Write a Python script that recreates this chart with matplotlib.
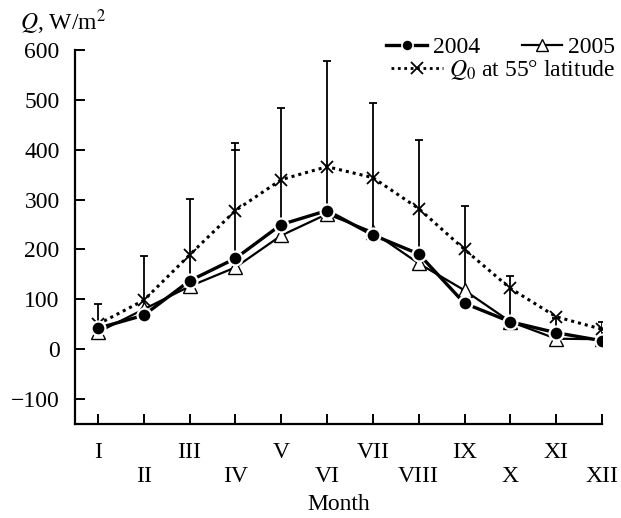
import matplotlib
matplotlib.use("Agg")
import matplotlib.pyplot as plt
from matplotlib.lines import Line2D

plt.rcParams['font.family'] = ['Liberation Serif', 'DejaVu Serif']
plt.rcParams['mathtext.fontset'] = 'stix'

months = list(range(1, 13))
month_labels = ["I", "II", "III", "IV", "V", "VI", "VII", "VIII", "IX", "X", "XI", "XII"]
q2004 = [42, 68, 137, 182, 250, 278, 229, 191, 92, 55, 33, 17]
q2005 = [34, 80, 126, 164, 228, 271, 235, 172, 118, 55, 21, 20]
q0 = [50, 98, 189, 278, 340, 366, 344, 282, 200, 122, 65, 40]
err_top = [91, 186, 301, 414, 483, 577, 494, 419, 287, 147, 62, 54]
extra_month = [4]
extra_top = [400]

FS = 17

fig = plt.figure(figsize=(6.21, 5.18), dpi=100)
ax = fig.add_axes([0.1208, 0.1815, 0.8486, 0.722])

# error bars (upper only, from the higher of the two series)
base = [max(a, b) for a, b in zip(q2004, q2005)]
upper = [t - b for t, b in zip(err_top, base)]
ax.errorbar(months, base, yerr=[[0]*12, upper], fmt='none', ecolor='black',
            elinewidth=1.3, capsize=3, capthick=1.3, zorder=2)
for m, t in zip(extra_month, extra_top):
    ax.plot([m - 0.07, m + 0.07], [t, t], color='black', lw=1.3, zorder=2)

ax.plot(months, q0, linestyle=(0, (1, 1.3)), color='black', lw=2.2,
        marker='x', ms=9, mew=1.3, zorder=3)
ax.plot(months, q2005, linestyle='-', color='black', lw=1.6,
        marker='^', ms=10, mfc='white', mec='black', mew=1.0, zorder=4)
ax.plot(months, q2004, linestyle='-', color='black', lw=2.4,
        marker='o', ms=10, mfc='black', mec='white', mew=1.6, zorder=5)

ax.set_xlim(0.5, 12)
ax.set_ylim(-150, 600)
ax.set_yticks([-100, 0, 100, 200, 300, 400, 500, 600])
ax.set_yticklabels(["\u2212100", "0", "100", "200", "300", "400", "500", "600"])
ax.set_xticks(months)
ax.set_xticklabels([lab if i % 2 == 0 else "\n" + lab for i, lab in enumerate(month_labels)])

for s in ['top', 'right']:
    ax.spines[s].set_visible(False)
for s in ['left', 'bottom']:
    ax.spines[s].set_linewidth(1.6)
ax.tick_params(direction='in', length=7, width=1.4, labelsize=FS)
ax.tick_params(axis='x', pad=13)
ax.tick_params(axis='y', pad=11)

ax.set_xlabel("Month", fontsize=FS, labelpad=5)
fig.text(0.032, 0.942, "$Q$, W/m$^2$", fontsize=FS, ha='left', va='baseline')

h2004 = Line2D([], [], color='black', lw=2.4, marker='o', ms=8, mec='white', mew=1.2)
h2005 = Line2D([], [], color='black', lw=1.6, marker='^', ms=8, mfc='white', mec='black')
hq0 = Line2D([], [], color='black', lw=2.0, linestyle=(0, (1, 1.3)), marker='x', ms=8, mew=1.3)

leg1 = ax.legend([h2004, h2005], ["2004", "2005"], ncol=2, frameon=False,
                 loc='upper right', bbox_to_anchor=(1.025, 1.035), fontsize=FS,
                 handlelength=1.7, handletextpad=0.25, columnspacing=1.8,
                 borderaxespad=0, borderpad=0)
ax.add_artist(leg1)
ax.legend([hq0], ["$Q_0$ at 55\u00b0 latitude"], frameon=False,
          loc='upper right', bbox_to_anchor=(1.025, 0.978), fontsize=FS,
          handlelength=2.2, handletextpad=0.25, borderaxespad=0, borderpad=0)

fig.savefig("out.png", dpi=100)
